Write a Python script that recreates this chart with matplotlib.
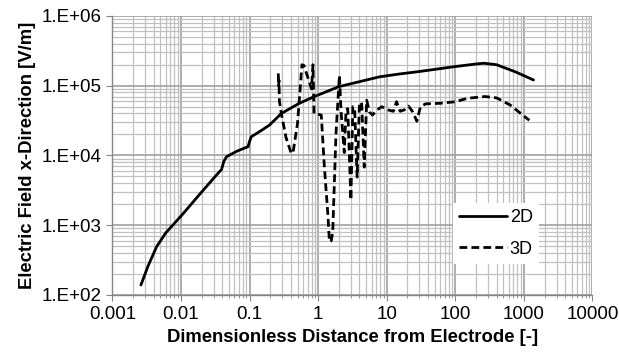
import matplotlib
matplotlib.use("Agg")
import matplotlib.pyplot as plt
from matplotlib.ticker import LogLocator, NullFormatter
import numpy as np

plt.rcParams['font.family'] = ['Liberation Sans', 'DejaVu Sans']

# 2D series
x2d = [0.0026, 0.0033, 0.0044, 0.006, 0.0103, 0.02, 0.036, 0.039, 0.042, 0.046,
       0.065, 0.095, 0.1, 0.106, 0.15, 0.196, 0.29, 0.53, 0.88, 2.0, 7.8, 15,
       30, 98, 200, 261, 400, 755, 1380]
y2d = [139, 260, 492, 780, 1400, 3000, 5800, 6300, 8200, 9600,
       11500, 13400, 16000, 18600, 23000, 27400, 40000, 56000, 70000, 97000, 134000, 147000,
       160000, 188000, 205000, 210000, 200000, 158000, 121000]

# 3D series
x3d = [0.262, 0.265, 0.268, 0.272, 0.29, 0.34, 0.405, 0.43, 0.5, 0.58,
       0.62, 0.8, 0.84, 0.87, 1.0, 1.11, 1.23, 1.38, 1.46, 1.55,
       1.63, 1.82, 2.04, 2.15, 2.4, 2.55, 2.7, 3.0, 3.2, 3.4,
       3.7, 4.0, 4.3, 4.7, 5.1, 5.6, 6.2, 7.2, 8.5, 10.5,
       12.5, 13.9, 15.7, 18, 20.8, 24, 27.5, 31, 37, 60,
       100, 150, 270, 400, 630, 900, 1200]
y3d = [150000, 100000, 120000, 60000, 40000, 18000, 10700, 11000, 29000, 200000,
       195000, 90000, 200000, 40000, 39000, 38000, 7000, 1500, 580, 600,
       800, 20800, 140000, 45000, 11000, 45000, 47000, 2300, 50000, 48000,
       4900, 55000, 58000, 6800, 62000, 42000, 38000, 45000, 50000, 45000,
       43000, 59000, 43000, 45000, 51000, 42000, 31000, 50000, 55000, 56000,
       59000, 66000, 70000, 67000, 53000, 40000, 32000]

xticks = [0.001, 0.01, 0.1, 1, 10, 100, 1000, 10000]
xticklabels = ['0.001', '0.01', '0.1', '1', '10', '100', '1000', '10000']
yticks = [1e2, 1e3, 1e4, 1e5, 1e6]
yticklabels = ['1.E+02', '1.E+03', '1.E+04', '1.E+05', '1.E+06']

fig = plt.figure(figsize=(6.19, 3.6), dpi=100)
ax = fig.add_axes([0.1817, 0.1806, 0.7754, 0.775])

ax.set_xscale('log')
ax.set_yscale('log')
ax.set_xlim(0.001, 10000)
ax.set_ylim(1e2, 1e6)

ax.set_xticks(xticks)
ax.set_xticklabels(xticklabels)
ax.set_yticks(yticks)
ax.set_yticklabels(yticklabels)
ax.xaxis.set_minor_locator(LogLocator(base=10, subs=np.arange(2, 10), numticks=20))
ax.yaxis.set_minor_locator(LogLocator(base=10, subs=np.arange(2, 10), numticks=20))
ax.xaxis.set_minor_formatter(NullFormatter())
ax.yaxis.set_minor_formatter(NullFormatter())

ax.grid(which='major', color='#a0a0a0', linewidth=1.2)
ax.grid(which='minor', color='#c0c0c0', linewidth=0.9)
ax.set_axisbelow(True)

for s in ['top', 'right']:
    ax.spines[s].set_visible(False)
for s in ['left', 'bottom']:
    ax.spines[s].set_color('#868686')
    ax.spines[s].set_linewidth(1.0)

ax.tick_params(which='major', direction='out', length=4, color='#868686', labelsize=13.5, pad=4)
ax.tick_params(which='minor', direction='out', length=2, color='#868686')
ax.tick_params(axis='y', which='minor', length=0)

l2, = ax.plot(x2d, y2d, color='black', linewidth=2.0, label='2D', solid_capstyle='round')
l3, = ax.plot(x3d, y3d, color='black', linewidth=2.0, label='3D', linestyle='--')
l3.set_dashes([2.8, 1.5])

ax.set_xlabel('Dimensionless Distance from Electrode [-]', fontsize=13.3, fontweight='bold', labelpad=4)
ax.set_ylabel('Electric Field x-Direction [V/m]', fontsize=13.3, fontweight='bold', labelpad=4)

leg = ax.legend(loc='upper left', bbox_to_anchor=(0.709, 0.33), fontsize=13,
                frameon=True, fancybox=False, edgecolor='none', facecolor='white',
                framealpha=1, handlelength=2.65, handletextpad=0.15,
                labelspacing=0.8, borderpad=0.35, borderaxespad=0)

fig.savefig('out.png', dpi=100)
